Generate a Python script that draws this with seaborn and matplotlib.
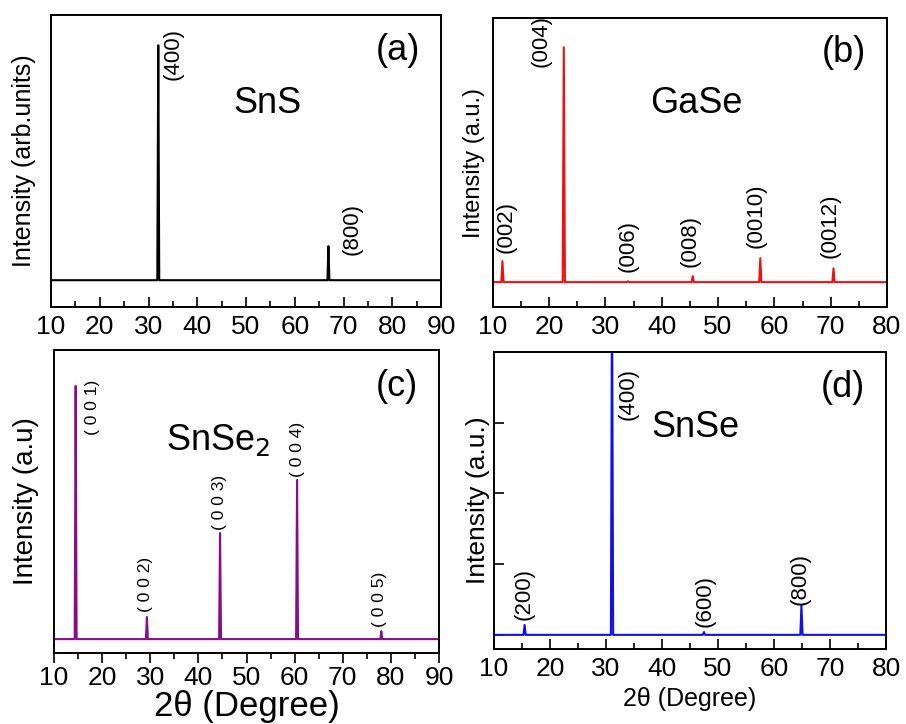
import numpy as np
import pandas as pd
import matplotlib
matplotlib.use("Agg")
import matplotlib.pyplot as plt
import seaborn as sns
from matplotlib.ticker import MultipleLocator, NullFormatter


# (a) SnS
sns_pos = [32.0, 66.9]
sns_height = [100.0, 14.5]
sns_labels = ["(400)", "(800)"]

# (b) GaSe
gase_pos = [11.7, 22.6, 34.0, 45.5, 57.5, 70.5]
gase_height = [7.3, 81.3, 0.3, 2.1, 8.3, 4.8]
gase_labels = ["(002)", "(004)", "(006)", "(008)", "(0010)", "(0012)"]

# (c) SnSe2
snse2_pos = [14.5, 29.3, 44.5, 60.5, 78.0]
snse2_height = [83.5, 7.3, 35.0, 52.5, 2.6]
snse2_labels = ["( 0 0 1)", "( 0 0 2)", "( 0 0 3)", "( 0 0 4)", "( 0 0 5)"]

# (d) SnSe
snse_pos = [15.5, 31.1, 47.5, 64.9]
snse_height = [0.14, 5.0, 0.04, 0.42]
snse_labels = ["(200)", "(400)", "(600)", "(800)"]


def peak_profile(pos, height, start, end, width=0.2):
    # sticks on a flat baseline
    xs = [start]
    ys = [0.0]
    for p, h in zip(pos, height):
        xs += [p - width, p, p + width]
        ys += [0.0, h, 0.0]
    xs.append(end)
    ys.append(0.0)
    return pd.DataFrame({"two_theta": xs, "intensity": ys})


sns.set_style("ticks")
plt.rcParams["font.family"] = ["Liberation Sans", "DejaVu Sans"]
plt.rcParams["axes.linewidth"] = 1.4
plt.rcParams["text.color"] = "black"
plt.rcParams["axes.labelcolor"] = "black"
plt.rcParams["xtick.color"] = "black"
plt.rcParams["ytick.color"] = "black"

fig = plt.figure(figsize=(9.06, 7.24), dpi=100)

ax_a = fig.add_axes([0.0563, 0.576, 0.4305, 0.403])
ax_b = fig.add_axes([0.544, 0.576, 0.435, 0.399])
ax_c = fig.add_axes([0.0596, 0.098, 0.425, 0.4186])
ax_d = fig.add_axes([0.545, 0.1036, 0.433, 0.4102])

# label anchors: (x in data, bottom of text in axes fraction)
panels = [
    (ax_a, sns_pos, sns_height, sns_labels, "black", (10, 90), (-11.4, 112.8),
     "Intensity (arb.units)", 18, 11, "(a)", "SnS", (0.554, 0.699),
     [(35.0, 0.777), (71.7, 0.178)], 16),
    (ax_b, gase_pos, gase_height, gase_labels, "#ee1111", (10, 80), (-8.6, 91.4),
     "Intensity (a.u.)", 17, 6, "(b)", "GaSe", (0.515, 0.706),
     [(12.3, 0.187), (18.5, 0.830), (34.0, 0.121), (45.0, 0.138), (56.7, 0.204), (69.9, 0.170)], 16),
    (ax_c, snse2_pos, snse2_height, snse2_labels, "#8b0a8b", (10, 90), (-4.6, 95.4),
     "Intensity (a.u)", 20, 11, "(c)", "SnSe$_2$", (0.427, 0.703),
     [(17.9, 0.719), (29.1, 0.135), (44.3, 0.406), (60.5, 0.581), (77.7, 0.086)], 12.5),
    (ax_d, snse_pos, snse_height, snse_labels, "#1010ee", (10, 80), (-0.2, 4.0),
     "Intensity (a.u.)", 19, 3, "(d)", "SnSe", (0.513, 0.747),
     [(15.4, 0.098), (33.9, 0.771), (47.7, 0.074), (64.6, 0.148)], 16),
]

for (ax, pos, height, labels, color, xlim, ylim, ylabel, ylsize, ylpad, tag, name,
     name_xy, label_xy, lblsize) in panels:
    df = peak_profile(pos, height, xlim[0] + 0.2, xlim[1] - 0.2)
    sns.lineplot(data=df, x="two_theta", y="intensity", ax=ax, color=color,
                 linewidth=1.5, estimator=None, sort=False)
    ax.set_xlim(*xlim)
    ax.set_ylim(*ylim)
    ax.set_ylabel(ylabel, fontsize=ylsize, labelpad=ylpad)
    ax.set_xlabel("")
    for s in ax.spines.values():
        s.set_visible(True)
        s.set_color("black")
    ax.xaxis.set_major_locator(MultipleLocator(10))
    ax.xaxis.set_minor_locator(MultipleLocator(5))
    ax.tick_params(axis="x", which="major", direction="in", length=7, width=1.2,
                   labelsize=19, pad=6, top=False)
    ax.tick_params(axis="x", which="minor", direction="in", length=4, width=1.2, top=False)
    ax.set_yticks([])
    ax.text(0.89, 0.88, tag, transform=ax.transAxes, fontsize=26,
            ha="center", va="center")
    ax.text(name_xy[0], name_xy[1], name, transform=ax.transAxes, fontsize=26,
            ha="center", va="center")
    for lab, (lx, ly) in zip(labels, label_xy):
        ax.text(lx, ly, lab, transform=ax.get_xaxis_transform(), rotation=90,
                fontsize=lblsize, ha="center", va="bottom")

# panel (c) has outward ticks and bigger x label
ax_c.tick_params(axis="x", which="both", direction="out")
ax_c.tick_params(axis="x", which="major", pad=2)
ax_c.set_xlabel("2\u03b8 (Degree)", fontsize=25, labelpad=0)

# panel (d) keeps unlabeled inward ticks on the left
ax_d.set_yticks([0, 1, 2, 3, 4])
ax_d.yaxis.set_major_formatter(NullFormatter())
ax_d.tick_params(axis="y", direction="in", length=7, width=1.2, right=False, pad=0)
ax_d.set_xlabel("2\u03b8 (Degree)", fontsize=18, labelpad=4)

fig.savefig("out.png", dpi=100)
